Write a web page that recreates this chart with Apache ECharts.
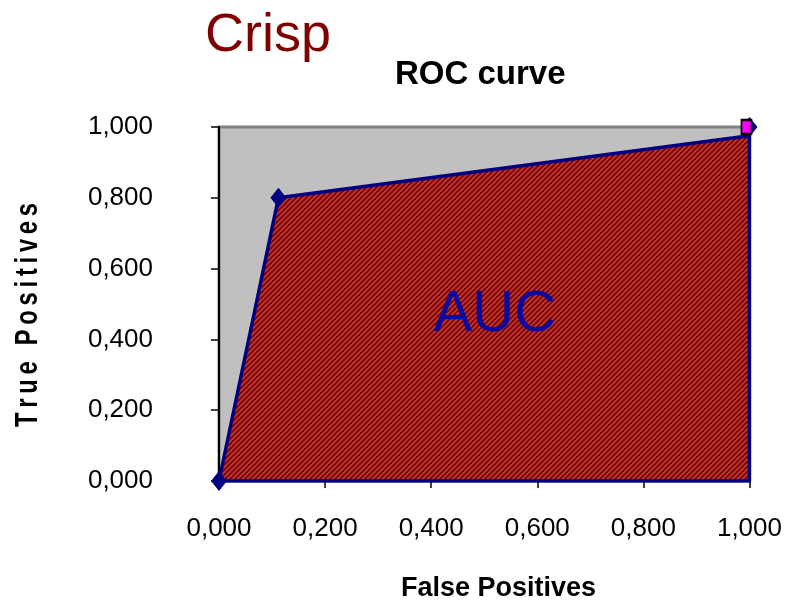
<!DOCTYPE html>
<html>
<head>
<meta charset="utf-8">
<script src="https://cdn.jsdelivr.net/npm/echarts@6/dist/echarts.min.js"></script>
<style>
  html, body { margin: 0; padding: 0; background: #ffffff; }
  #chart { width: 785px; height: 610px; }
</style>
</head>
<body>
<div id="chart"></div>
<script>
// ROC curve of a crisp classifier: (FPR, TPR) points
const rocPoints = [[0, 0], [0.112, 0.8], [1, 1]];
// Boundary of the area under the curve
const aucCurve = [[0, 0], [0.112, 0.8], [1, 0.975]];
const aucOutline = [[0, 0], [0.112, 0.8], [1, 0.975], [1, 0], [0, 0]];
// Ideal classifier
const perfectPoint = [[1, 1]];
// Where the "AUC" caption sits, in data units
const aucCaption = [[0.52, 0.47]];
const xTicks = [0, 0.2, 0.4, 0.6, 0.8, 1.0];
const yTicks = [0, 0.2, 0.4, 0.6, 0.8, 1.0];

const SANS = '"Liberation Sans", Arial, sans-serif';

// Diagonal hatch used for the area fill
function hatch() {
  const n = 5;
  const c = document.createElement('canvas');
  c.width = n; c.height = n;
  const ctx = c.getContext('2d');
  const img = ctx.createImageData(n, n);
  for (let y = 0; y < n; y++) {
    for (let x = 0; x < n; x++) {
      const k = (x + y) % n;
      const light = k < 2;
      const i = (y * n + x) * 4;
      img.data[i] = light ? 180 : 140;
      img.data[i + 1] = light ? 62 : 6;
      img.data[i + 2] = light ? 56 : 6;
      img.data[i + 3] = 255;
    }
  }
  ctx.putImageData(img, 0, 0);
  return c;
}

// Stretch factor so the spaced vertical axis title spans a given length
function fitScale(text, font, length) {
  const ctx = document.createElement('canvas').getContext('2d');
  ctx.font = font;
  return length / ctx.measureText(text).width;
}

const fmt = v => v.toFixed(3).replace('.', ',');
const yTitle = 'True Positives'.split('').join('\u2009');
const yTitleFont = 'bold 31px ' + SANS;

const chart = echarts.init(document.getElementById('chart'), null, { renderer: 'canvas' });
chart.setOption({
  animation: false,
  backgroundColor: '#ffffff',
  grid: {
    left: 219, right: 33, top: 127, bottom: 129,
    show: true, backgroundColor: '#c0c0c0',
    borderColor: '#808080', borderWidth: 3
  },
  graphic: [
    { type: 'text', left: 205, top: 9,
      style: { text: 'Crisp', font: '54px ' + SANS, fill: '#800000' } },
    { type: 'text', left: 395, top: 58,
      style: { text: 'ROC curve', font: 'bold 33px ' + SANS, fill: '#000000' } },
    { type: 'text', left: 401, top: 575,
      style: { text: 'False Positives', font: 'bold 27px ' + SANS, fill: '#000000' } },
    { type: 'text', x: 13, y: 315, rotation: Math.PI / 2,
      scaleX: fitScale(yTitle, yTitleFont, 224),
      style: { text: yTitle, font: yTitleFont, fill: '#000000',
               textAlign: 'center', textVerticalAlign: 'top' } }
  ],
  xAxis: {
    type: 'value', min: 0, max: 1, interval: 0.2,
    axisLine: { show: true, onZero: false, lineStyle: { color: '#000000', width: 2 } },
    axisTick: { show: true, length: 7, lineStyle: { color: '#000000', width: 1.5 } },
    axisLabel: { margin: 35, formatter: v => xTicks.includes(+v.toFixed(1)) ? fmt(v) : '',
                 fontFamily: SANS, fontSize: 26, color: '#000000' },
    splitLine: { show: false }
  },
  yAxis: {
    type: 'value', min: 0, max: 1, interval: 0.2,
    axisLine: { show: true, lineStyle: { color: '#000000', width: 2 } },
    axisTick: { show: true, length: 8, lineStyle: { color: '#000000', width: 1.5 } },
    axisLabel: { margin: 66, align: 'right', formatter: v => yTicks.includes(+v.toFixed(1)) ? fmt(v) : '',
                 fontFamily: SANS, fontSize: 26, color: '#000000' },
    splitLine: { show: false }
  },
  series: [
    {
      name: 'AUC', type: 'line', data: aucCurve, symbol: 'none',
      lineStyle: { width: 0 },
      areaStyle: { color: { image: hatch(), repeat: 'repeat' }, opacity: 1, origin: 'start' },
      z: 2
    },
    {
      name: 'outline', type: 'line', data: aucOutline, symbol: 'none',
      lineStyle: { color: '#000080', width: 3.5 }, z: 3
    },
    {
      name: 'caption', type: 'scatter', data: aucCaption, symbolSize: 1,
      itemStyle: { color: 'rgba(0,0,0,0)', opacity: 1 }, silent: true,
      label: { show: true, position: 'inside', formatter: 'AUC',
               fontFamily: SANS, fontSize: 58, color: '#0a0aa0' },
      z: 4
    },
    {
      name: 'ROC', type: 'scatter', data: rocPoints, symbol: 'diamond', symbolSize: [16, 20],
      itemStyle: { color: '#000080', opacity: 1 }, z: 5
    },
    {
      name: 'perfect', type: 'scatter', data: perfectPoint, symbol: 'rect', symbolSize: [10, 14],
      symbolOffset: [-3, 0], zlevel: 1,
      itemStyle: { color: '#ff00ff', borderColor: '#000000', borderWidth: 2, opacity: 1 }, z: 6
    }
  ]
});
</script>
</body>
</html>
